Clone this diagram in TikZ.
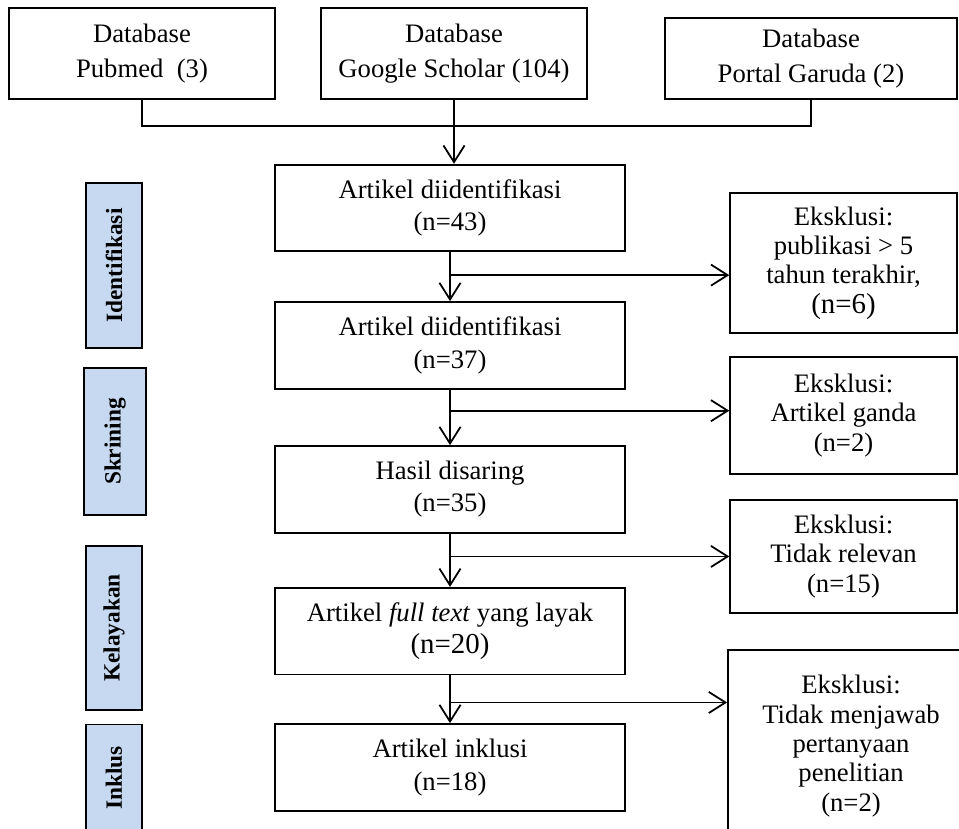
\documentclass[tikz,border=0pt]{standalone}
\usepackage{fontspec}
\setmainfont{Liberation Serif}
\usetikzlibrary{arrows.meta,positioning}

\definecolor{phaseblue}{RGB}{198,217,241}

\begin{document}
\begin{tikzpicture}[
			x=0.45pt,y=-0.45pt,
			font=\fontsize{12}{14.6}\selectfont,
			node distance=22pt,
			dbbox/.style={
				rectangle,draw,line width=0.8pt,align=center,
				minimum width=119.7pt,
				minimum height=41pt,
				inner sep=2pt,
				font=\fontsize{12}{16}\selectfont
			},
			process/.style={
				rectangle,draw,line width=0.8pt,align=center,
				minimum width=157.5pt,
				minimum height=39pt,
				inner sep=2pt
			},
			exclude/.style={
				rectangle,draw,line width=0.8pt,align=center,
				minimum width=102pt,
				inner sep=2pt,
				font=\fontsize{12}{13.2}\selectfont
			},
			phase/.style={
				rectangle,draw,line width=0.8pt,fill=phaseblue,
				minimum height=25.2pt,
				inner sep=0pt,rotate=90,
				font=\fontsize{10.5}{12}\selectfont\bfseries
			},
			link/.style={line width=0.8pt},
			arrow/.style={-{Straight Barb[length=7.5pt,width=9.5pt]},line width=0.8pt}
			]
			
			\useasboundingbox (0,0) rectangle (959,828);
			\clip (0,0) rectangle (959,828);
			
			% sources
			\node[dbbox] (pubmed) at (142,53.5)
			{Database\\Pubmed\ \ (3)};
			
			\node[dbbox] (scholar) at (454,53.5)
			{Database\\Google Scholar (104)};
			
			\node[dbbox,minimum width=131.4pt,minimum height=36.5pt] (garuda) at (811,58.5)
			{Database\\Portal Garuda (2)};
			
			% main column
			\node[process] (found) at (450,208)
			{Artikel diidentifikasi\\(n=43)};
			
			\node[process,below=22pt of found] (recent)
			{Artikel diidentifikasi\\(n=37)};
			
			\node[process,below=25pt of recent] (screened)
			{Hasil disaring\\(n=35)};
			
			\node[process,below=24pt of screened] (eligible)
			{Artikel \textit{full text} yang layak\\{\fontsize{13}{15}\selectfont (n=20)}};
			
			\node[process,below=21.5pt of eligible] (included)
			{Artikel inklusi\\(n=18)};
			
			% exclusions
			\node[exclude,minimum height=63pt] (oldpub) at (843.5,263)
			{Eksklusi:\\publikasi > 5\\tahun terakhir,\\{\fontsize{13}{14}\selectfont (n=6)}};
			
			\node[exclude,minimum height=52.7pt] (double) at (843.5,415.5)
			{Eksklusi:\\Artikel ganda\\(n=2)};
			
			\node[exclude,minimum height=50.9pt] (offtopic) at (843.5,556.5)
			{Eksklusi:\\Tidak relevan\\(n=15)};
			
			\node[exclude,minimum width=110.7pt,minimum height=86.4pt] (noanswer) at (851,746)
			{Eksklusi:\\Tidak menjawab\\pertanyaan\\penelitian\\(n=2)};
			
			% phases
			\node[phase,minimum width=74.3pt] (phaseid) at (114,265.5) {Identifikasi};
			\node[phase,minimum width=66.2pt,minimum height=27.9pt] (phasesk) at (115,441.5) {Skrining};
			\node[phase,minimum width=73.8pt] (phasekl) at (114,628) {Kelayakan};
			\node[phase,minimum width=48.2pt] (phasein) at (114,778) {Inklus};
			
			% connectors
			\coordinate[below=11.7pt of scholar.south] (merge);
			\draw[link] (pubmed.south) |- (merge) -| (garuda.south);
			\draw[arrow] (scholar.south) -- (found.north -| scholar.south);
			
			\draw[arrow] (found) -- (recent);
			\draw[arrow] (recent) -- (screened);
			\draw[arrow] (screened) -- (eligible);
			\draw[arrow] (eligible) -- (included);
			
			\coordinate[below=10.3pt of found.south] (split1);
			\coordinate[below=9.5pt of recent.south] (split2);
			\coordinate[below=10.3pt of screened.south] (split3);
			\coordinate[below=12.2pt of eligible.south] (split4);
			
			\draw[arrow] (split1) -- (split1 -| oldpub.west);
			\draw[arrow] (split2) -- (split2 -| double.west);
			\draw[arrow] (split3) -- (split3 -| offtopic.west);
			\draw[arrow] (split4) -- (split4 -| noanswer.west);
			
		\end{tikzpicture}
\end{document}
